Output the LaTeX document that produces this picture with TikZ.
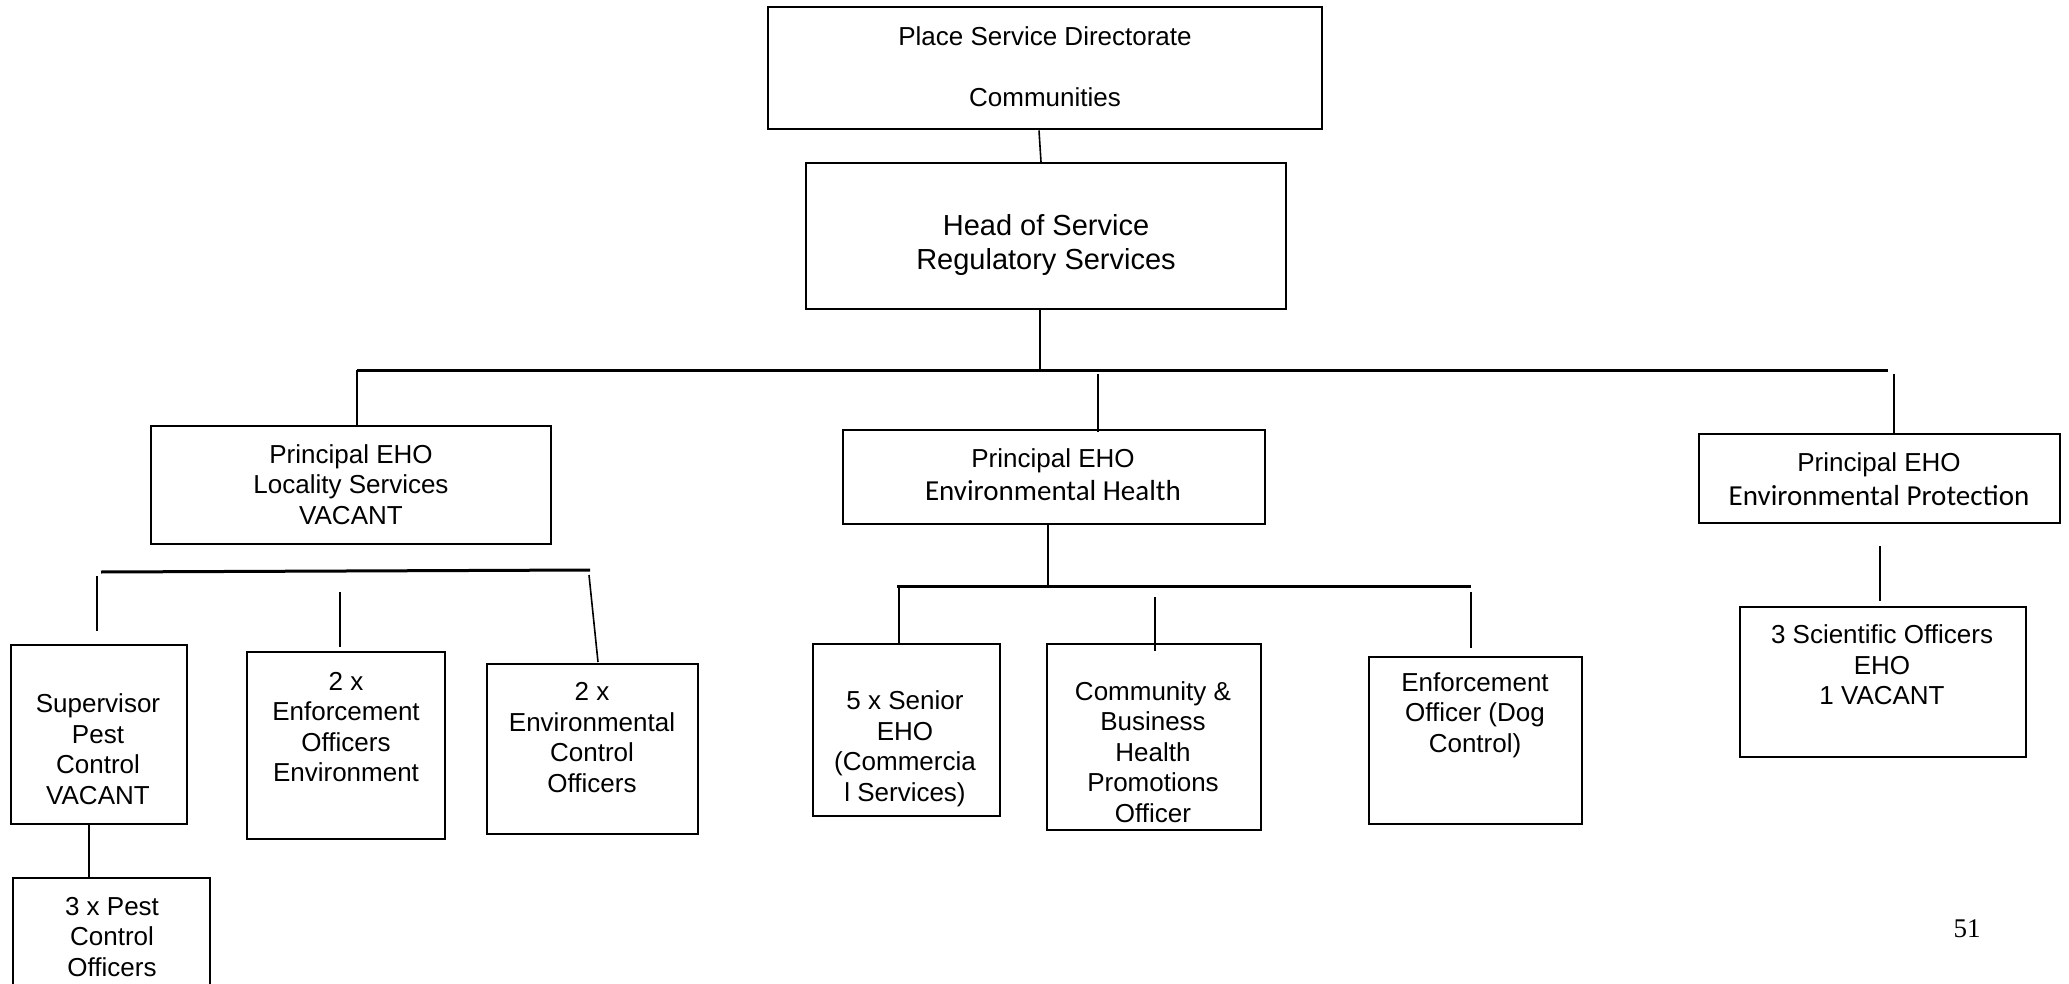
\documentclass[tikz,border=0pt]{standalone}
\usepackage{fontspec}
\setmainfont{Liberation Sans}
\newfontfamily\calib{Carlito}
\newfontfamily\timesf{Liberation Serif}
\begin{document}
\begin{tikzpicture}[x=1pt,y=-1pt,
  box/.style={draw,line width=2pt,inner sep=0pt,rectangle},
  txt/.style={align=center,inner sep=0pt,yshift=-1.5pt,font=\fontsize{26}{30.5}\selectfont},
  conn/.style={line width=1.6pt},
  bus/.style={line width=3pt}]
\useasboundingbox (0,0) rectangle (2069,984);
\clip (0,0) rectangle (2069,984);

% boxes
\node[box,minimum width=554pt,minimum height=122pt] (dir)  at (1045,68.5) {};
\node[box,minimum width=480pt,minimum height=146pt] (head) at (1046,236) {};
\node[box,minimum width=400pt,minimum height=118pt] (loc)  at (351,485) {};
\node[box,minimum width=422pt,minimum height=94pt]  (envh) at (1054,477) {};
\node[box,minimum width=361pt,minimum height=89pt]  (envp) at (1879.5,478.5) {};
\node[box,minimum width=286pt,minimum height=150pt] (sci)  at (1883,682) {};
\node[box,minimum width=176pt,minimum height=179pt] (sup)  at (99,734.5) {};
\node[box,minimum width=198pt,minimum height=187pt] (enfo) at (346,745.5) {};
\node[box,minimum width=211pt,minimum height=170pt] (envc) at (592.5,749) {};
\node[box,minimum width=197pt,minimum height=132pt] (pest) at (111.5,944) {};
\node[box,minimum width=187pt,minimum height=172pt] (sen)  at (906.5,730) {};
\node[box,minimum width=214pt,minimum height=186pt] (comm) at (1154,737) {};
\node[box,minimum width=213pt,minimum height=167pt] (dog)  at (1475.5,740.5) {};

% texts
\node[txt,yshift=-1pt] (dir-t) at (1045,64.5) {Place Service Directorate\\ \strut\\Communities};
\node[txt,yshift=-2.5pt,font=\fontsize{29}{34}\selectfont] (head-t) at (1046,241.5) {Head of Service\\Regulatory Services};
\node[txt] (loc-t) at (351,483) {Principal EHO\\Locality Services\\VACANT};
\node[txt,font=\fontsize{26}{33}\selectfont] (envh-t) at (1053,473.5) {Principal EHO\\{\calib\fontsize{29}{33}\selectfont Environmental Health}};
\node[txt,font=\fontsize{26}{34}\selectfont] (envp-t) at (1879,478) {Principal EHO\\{\calib\fontsize{29}{34}\selectfont Environmental Protection}};
\node[txt] (sci-t) at (1882,663.5) {3 Scientific Officers\\EHO\\1 VACANT};
\node[txt] (sup-t) at (98,747.5) {Supervisor\\Pest\\Control\\VACANT};
\node[txt] (enfo-t) at (346,725.5) {2 x\\Enforcement\\Officers\\Environment};
\node[txt] (envc-t) at (592,736) {2 x\\Environmental\\Control\\Officers};
\node[txt] (pest-t) at (112,935.5) {3 x Pest\\Control\\Officers};
\node[txt] (sen-t) at (905,747.5) {5 x Senior\\EHO\\(Commercia\\l Services)};
\node[txt] (comm-t) at (1153,750.5) {Community \&\\Business\\Health\\Promotions\\Officer};
\node[txt] (dog-t) at (1475,713.5) {Enforcement\\Officer (Dog\\Control)};
\node[inner sep=0pt,font=\timesf\fontsize{27}{30}\selectfont] (page) at (1967,929) {51};

% bus coordinates
\coordinate (b1l) at (357,370);
\coordinate (b1r) at (1888,370);
\coordinate (b2l) at (897,586);
\coordinate (b2r) at (1471,586);
\coordinate (b3l) at (101,572);
\coordinate (b3r) at (590,570);

% connectors
\draw[conn] (dir.south -| 1039,0) -- (head.north -| 1041,0);
\draw[conn] (head.south -| 1040,0) -- (1040,370);
\draw[bus] (b1l) -- (b1r);
\draw[conn] (b1l) -- (loc.north -| b1l);
\coordinate (e1) at (1098,374);
\draw[conn] (e1) -- ([yshift=-3pt]envh.north -| e1);
\coordinate (e2) at (1894,374);
\draw[conn] (e2) -- (envp.north -| e2);
\coordinate (p1) at (1880,546);
\coordinate (p2) at (1880,601);
\draw[conn] (p1) -- (p2);

\draw[conn] (envh.south -| 1048,0) -- (1048,586);
\draw[bus] (b2l) -- (b2r);
\draw[conn] (899,586) -- (sen.north -| 899,0);
\coordinate (c1) at (1155,597);
\coordinate (c2) at (1155,651);
\draw[conn] (c1) -- (c2);
\coordinate (d1) at (1471,592);
\coordinate (d2) at (1471,648);
\draw[conn] (d1) -- (d2);

\draw[bus] (b3l) -- (b3r);
\coordinate (s1) at (97,576);
\coordinate (s2) at (97,631);
\draw[conn] (s1) -- (s2);
\coordinate (f1) at (340,592);
\coordinate (f2) at (340,647);
\draw[conn] (f1) -- (f2);
\coordinate (g1) at (589,575);
\coordinate (g2) at (598,662);
\draw[conn] (g1) -- (g2);
\draw[conn] (sup.south -| 89,0) -- (pest.north -| 89,0);
\end{tikzpicture}
\end{document}
